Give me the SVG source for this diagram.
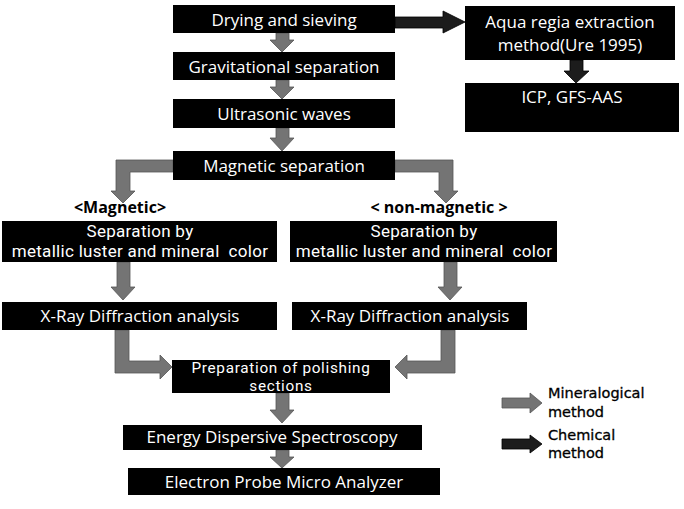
<svg xmlns="http://www.w3.org/2000/svg" width="684" height="509" viewBox="0 0 684 509">
<style>
.box{fill:#000}
.t{font-family:"Open Sans","Noto Sans",sans-serif;font-size:17px;fill:#fff;text-anchor:middle}
.t2{font-family:Roboto,"Open Sans",sans-serif;font-size:17px;fill:#fff;text-anchor:middle;letter-spacing:0.3px}
.t3{font-family:Roboto,"Open Sans",sans-serif;font-size:15.3px;fill:#fff;text-anchor:middle;letter-spacing:0.7px}
.lab{font-family:"Open Sans","Noto Sans",sans-serif;font-size:16px;font-weight:bold;fill:#000;text-anchor:middle}
.leg{font-family:"DejaVu Sans",sans-serif;font-size:14.5px;fill:#000;stroke:#000;stroke-width:0.3}
.min{fill:#747474;stroke:#555;stroke-width:0.8}
.chem{fill:#1c1c1c;stroke:#000;stroke-width:0.8}
</style>
<rect width="684" height="509" fill="#fff"/>
<g id="connectors">
<polygon class="chem" points="395,17 443,17 443,11 465,22 443,33 443,28 395,28"/>
<polygon class="chem" points="570,60 583,60 583,71 589,71 576,83 564,71 570,71"/>
<polygon class="min" points="276,33 289,33 289,40 294,40 282,52 270,40 276,40"/>
<polygon class="min" points="276,80 289,80 289,87 294,87 282,99 270,87 276,87"/>
<polygon class="min" points="276,128 289,128 289,138 294,138 282,151 270,138 276,138"/>
<polygon class="min" points="173,160 116,160 116,191 111,191 123,203 135,191 130,191 130,172 173,172"/>
<polygon class="min" points="395,160 453,160 453,191 458,191 446,203 434,191 439,191 439,172 395,172"/>
<polygon class="min" points="117,262 130,262 130,287 135,287 123,300 111,287 117,287"/>
<polygon class="min" points="444,262 457,262 457,287 462,287 450,300 438,287 444,287"/>
<polygon class="min" points="115,330 129,330 129,361 160,361 160,355 172,367 160,379 160,373 115,373"/>
<polygon class="min" points="455,330 441,330 441,361 407,361 407,355 395,367 407,379 407,373 455,373"/>
<polygon class="min" points="276,393 289,393 289,410 294,410 282,423 270,410 276,410"/>
<polygon class="min" points="276,450 289,450 289,457 294,457 282,468 270,457 276,457"/>
</g>
<g id="n-drying"><rect class="box" x="173" y="5" width="222" height="28"/><text class="t" x="284" y="26">Drying and sieving</text></g>
<g id="n-aqua"><rect class="box" x="465" y="6" width="210" height="54"/><text class="t" x="570" y="28">Aqua regia extraction</text><text class="t" x="570" y="51">method(Ure 1995)</text></g>
<g id="n-icp"><rect class="box" x="465" y="83" width="214" height="49"/><text class="t" x="572" y="103">ICP, GFS-AAS</text></g>
<g id="n-grav"><rect class="box" x="173" y="52" width="222" height="28"/><text class="t" x="284" y="73">Gravitational separation</text></g>
<g id="n-ultra"><rect class="box" x="173" y="99" width="222" height="29"/><text class="t" x="284" y="120">Ultrasonic waves</text></g>
<g id="n-magsep"><rect class="box" x="173" y="151" width="222" height="29"/><text class="t" x="284" y="172">Magnetic separation</text></g>
<g id="l-mag"><text class="lab" x="120" y="213">&lt;Magnetic&gt;</text></g>
<g id="l-nonmag"><text class="lab" x="439" y="213">&lt; non-magnetic &gt;</text></g>
<g id="n-sepL"><rect class="box" x="2" y="221" width="275" height="41"/><text class="t2" x="140" y="237">Separation by</text><text class="t2" x="140" y="257">metallic luster and mineral&#160; color</text></g>
<g id="n-sepR"><rect class="box" x="290" y="221" width="267" height="41"/><text class="t2" x="424" y="237">Separation by</text><text class="t2" x="424" y="257">metallic luster and mineral&#160; color</text></g>
<g id="n-xrdL"><rect class="box" x="2" y="302" width="275" height="28"/><text class="t" x="140" y="322">X-Ray Diffraction analysis</text></g>
<g id="n-xrdR"><rect class="box" x="292" y="302" width="235" height="28"/><text class="t" x="410" y="322">X-Ray Diffraction analysis</text></g>
<g id="n-prep"><rect class="box" x="172" y="360" width="218" height="33"/><text class="t3" x="281" y="373">Preparation of polishing</text><text class="t3" x="281" y="391">sections</text></g>
<g id="n-eds"><rect class="box" x="123" y="425" width="299" height="25"/><text class="t" x="272" y="443">Energy Dispersive Spectroscopy</text></g>
<g id="n-epma"><rect class="box" x="128" y="468" width="312" height="27"/><text class="t" x="284" y="488">Electron Probe Micro Analyzer</text></g>
<g id="legend">
<polygon class="min" points="502,398 530,398 530,393 542,403 530,413 530,408 502,408"/>
<text class="leg" x="548" y="398">Mineralogical</text><text class="leg" x="548" y="417">method</text>
<polygon class="chem" points="502,439 530,439 530,435 542,444 530,453 530,449 502,449"/>
<text class="leg" x="548" y="440">Chemical</text><text class="leg" x="548" y="458">method</text>
</g>
</svg>
